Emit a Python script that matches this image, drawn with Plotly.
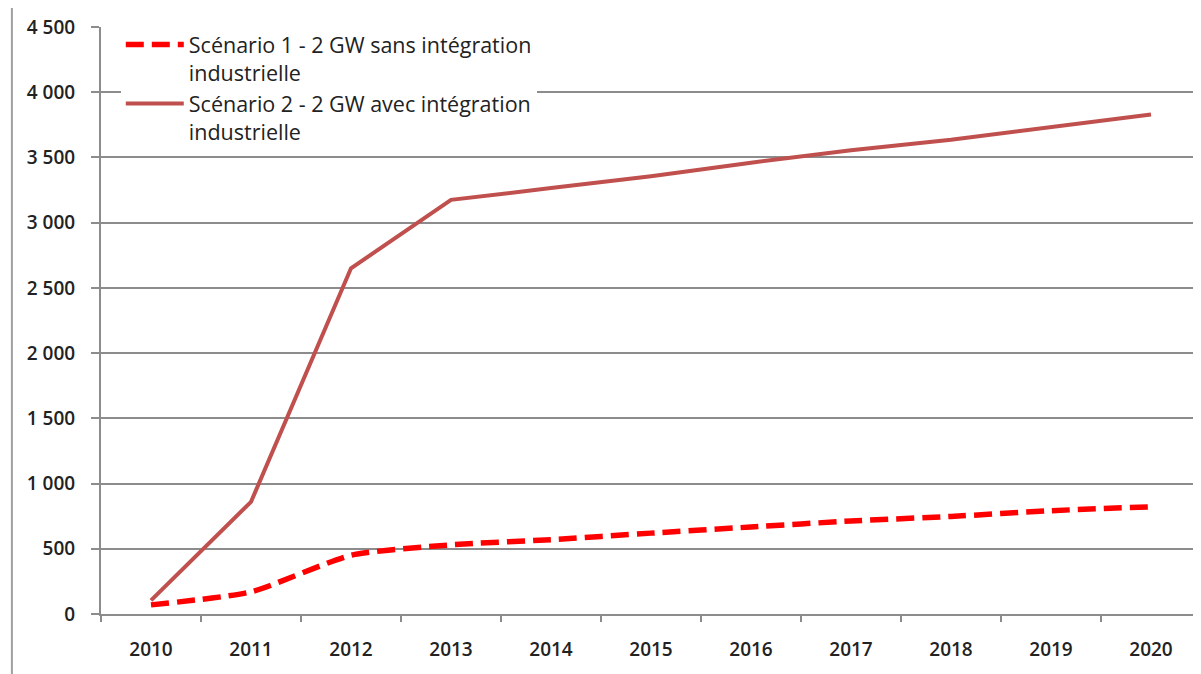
import plotly.graph_objects as go

years = ["2010", "2011", "2012", "2013", "2014", "2015", "2016", "2017", "2018", "2019", "2020"]
scenario1 = [70, 170, 450, 530, 570, 620, 667, 713, 748, 792, 822]
scenario2 = [105, 860, 2650, 3175, 3265, 3355, 3460, 3555, 3635, 3730, 3830]
name1 = "Scénario 1 - 2 GW sans intégration<br>industrielle"
name2 = "Scénario 2 - 2 GW avec intégration<br>industrielle"
ytickvals = [0, 500, 1000, 1500, 2000, 2500, 3000, 3500, 4000, 4500]
yticktext = ["0", "500", "1 000", "1 500", "2 000", "2 500", "3 000", "3 500", "4 000", "4 500"]

FONT = "Open Sans"

fig = go.Figure()
fig.add_trace(go.Scatter(
    x=years, y=scenario1, name=name1, mode="lines",
    line=dict(color="#FF0000", width=5.5, dash="18px,8px", shape="spline", smoothing=0.6),
))
fig.add_trace(go.Scatter(
    x=years, y=scenario2, name=name2, mode="lines",
    line=dict(color="#C0504D", width=4),
))

fig.update_layout(
    width=1201, height=674,
    margin=dict(l=93, r=8, t=19, b=68),
    paper_bgcolor="white", plot_bgcolor="white",
    font=dict(family=FONT, color="#222222"),
    showlegend=True,
    legend=dict(
        x=0.018, y=1.005, xanchor="left", yanchor="top",
        bgcolor="white", borderwidth=0,
        font=dict(family=FONT, size=21.5, color="#222222"),
        itemwidth=58, tracegroupgap=0, valign="top",
        entrywidth=485, entrywidthmode="pixels",
    ),
    xaxis=dict(
        type="category", range=[-0.5, 10.5], automargin=False,
        showgrid=False, showline=True, linecolor="#8c8c8c", linewidth=2,
        ticks="outside", tickson="boundaries", ticklen=6, tickcolor="#8c8c8c", tickwidth=2,
        tickfont=dict(family=FONT, size=19, color="#222222", weight=600),
        ticklabelstandoff=17,
    ),
    yaxis=dict(
        range=[0, 4500], tickvals=ytickvals, ticktext=yticktext, automargin=False,
        showgrid=True, gridcolor="#8c8c8c", gridwidth=1.5,
        showline=True, linecolor="#8c8c8c", linewidth=2,
        ticks="outside", ticklen=8, tickcolor="#8c8c8c", tickwidth=2,
        tickfont=dict(family=FONT, size=19, color="#222222", weight=600),
        ticklabelstandoff=12, zeroline=False,
    ),
    shapes=[dict(
        type="rect", xref="paper", yref="paper",
        x0=-0.081, x1=1.02, y0=-0.2, y1=1.034,
        line=dict(color="#a0a0a0", width=2), fillcolor="rgba(0,0,0,0)", layer="below",
    )],
)

fig.write_html("out.html")
